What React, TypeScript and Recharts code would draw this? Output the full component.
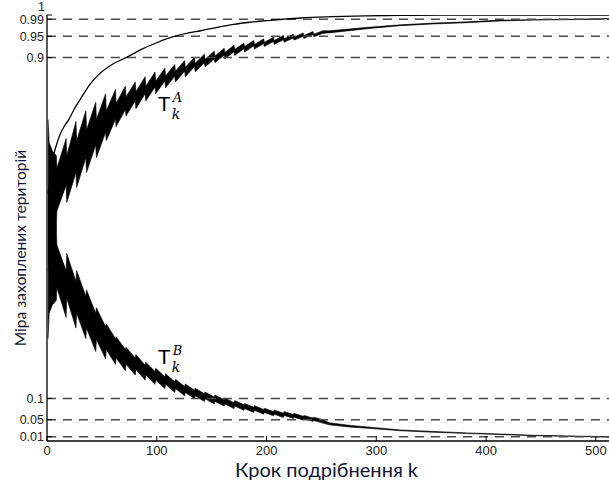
import React from "react";
import {
  Area,
  ComposedChart,
  Line,
  ReferenceDot,
  ReferenceLine,
  XAxis,
  YAxis,
} from "recharts";

// smooth curve
const K_S = [1, 3, 5, 8, 12, 16, 20, 25, 31, 40, 47, 60, 72, 85, 101, 115, 129, 140, 155, 170, 185, 201, 215, 231, 260, 290, 320, 360, 400, 450, 512];
const S_VAL = [0.58, 0.63, 0.66, 0.69, 0.72, 0.74, 0.755, 0.78, 0.805, 0.84, 0.86, 0.885, 0.9, 0.918, 0.936, 0.949, 0.958, 0.963, 0.971, 0.978, 0.983, 0.987, 0.99, 0.993, 0.996, 0.998, 0.999, 0.9995, 1, 1, 1];

// start of each sawtooth step
const TOOTH_K = [9, 18, 27, 36, 45, 54, 63, 72, 81, 90, 99, 108, 117, 126, 135, 144, 153, 162, 171, 180, 189, 198, 207, 216, 225, 234, 243];

// T_k^A
const A_HEAD_K = [1, 2, 5, 8.5];
const A_HEAD_LO = [0.4, 0.42, 0.45, 0.5];
const A_HEAD_HI = [0.755, 0.7, 0.68, 0.67];
const A_S_LO = [0.54, 0.56, 0.595, 0.63, 0.665, 0.705, 0.738, 0.763, 0.78, 0.798, 0.815, 0.829, 0.843, 0.855, 0.867, 0.878, 0.888, 0.897, 0.905, 0.913, 0.92, 0.926, 0.931, 0.936, 0.941, 0.945, 0.949];
const A_S_HI = [0.64, 0.67, 0.705, 0.73, 0.755, 0.775, 0.793, 0.808, 0.82, 0.833, 0.845, 0.857, 0.868, 0.877, 0.887, 0.896, 0.904, 0.912, 0.919, 0.926, 0.931, 0.936, 0.94, 0.944, 0.948, 0.952, 0.955];
const A_E_LO = [0.6, 0.63, 0.665, 0.695, 0.725, 0.755, 0.778, 0.798, 0.815, 0.831, 0.845, 0.856, 0.868, 0.879, 0.888, 0.897, 0.906, 0.914, 0.921, 0.928, 0.933, 0.938, 0.942, 0.946, 0.95, 0.954, 0.957];
const A_E_HI = [0.71, 0.75, 0.775, 0.795, 0.815, 0.825, 0.833, 0.843, 0.855, 0.866, 0.875, 0.884, 0.893, 0.901, 0.908, 0.915, 0.922, 0.929, 0.934, 0.94, 0.944, 0.948, 0.952, 0.955, 0.958, 0.961, 0.963];
const A_TAIL_K = [257, 275, 292, 322, 352, 383, 413, 443, 474, 504, 512];
const A_TAIL_LO = [0.958, 0.963, 0.968, 0.975, 0.979, 0.982, 0.986, 0.988, 0.989, 0.99, 0.991];
const A_TAIL_HI = [0.963, 0.967, 0.971, 0.977, 0.981, 0.984, 0.988, 0.989, 0.99, 0.991, 0.992];

// T_k^B
const B_HEAD_K = [1, 2, 5, 8.5];
const B_HEAD_LO = [0.24, 0.3, 0.32, 0.33];
const B_HEAD_HI = [0.58, 0.58, 0.55, 0.5];
const B_S_LO = [0.36, 0.335, 0.3, 0.265, 0.238, 0.215, 0.195, 0.18, 0.168, 0.155, 0.143, 0.133, 0.123, 0.114, 0.106, 0.099, 0.093, 0.087, 0.082, 0.076, 0.072, 0.067, 0.063, 0.06, 0.056, 0.052, 0.048];
const B_S_HI = [0.46, 0.44, 0.4, 0.355, 0.313, 0.275, 0.245, 0.22, 0.203, 0.185, 0.171, 0.158, 0.145, 0.134, 0.124, 0.115, 0.108, 0.101, 0.095, 0.088, 0.083, 0.077, 0.073, 0.069, 0.065, 0.06, 0.056];
const B_E_LO = [0.29, 0.265, 0.24, 0.21, 0.193, 0.18, 0.165, 0.155, 0.143, 0.133, 0.123, 0.114, 0.106, 0.099, 0.093, 0.087, 0.082, 0.076, 0.072, 0.067, 0.063, 0.059, 0.055, 0.053, 0.049, 0.046, 0.042];
const B_E_HI = [0.4, 0.375, 0.34, 0.3, 0.268, 0.24, 0.215, 0.195, 0.178, 0.163, 0.151, 0.139, 0.128, 0.119, 0.111, 0.103, 0.097, 0.09, 0.085, 0.079, 0.074, 0.069, 0.065, 0.062, 0.058, 0.054, 0.05];
const B_TAIL_K = [257, 275, 292, 322, 352, 383, 413, 443, 474, 504, 512];
const B_TAIL_LO = [0.038, 0.033, 0.03, 0.024, 0.0205, 0.0175, 0.015, 0.0125, 0.011, 0.0095, 0.009];
const B_TAIL_HI = [0.043, 0.037, 0.033, 0.026, 0.0225, 0.019, 0.0165, 0.0135, 0.012, 0.0105, 0.01];

const X_TICKS = [0, 100, 200, 300, 400, 500];
const Y_TICKS = [0.01, 0.05, 0.1, 0.9, 0.95, 0.99, 1];
const DASHED = [0.01, 0.05, 0.1, 0.9, 0.95, 0.99];

function buildBand(
  headK: number[], headLo: number[], headHi: number[],
  sLo: number[], sHi: number[], eLo: number[], eHi: number[],
  tailK: number[], tailLo: number[], tailHi: number[],
) {
  const rows: { k: number; r: number[] }[] = [];
  headK.forEach((k, i) => rows.push({ k, r: [headLo[i], headHi[i]] }));
  TOOTH_K.forEach((k, i) => {
    rows.push({ k, r: [sLo[i], sHi[i]] });
    rows.push({ k: k + 8.4, r: [eLo[i], eHi[i]] });
  });
  tailK.forEach((k, i) => rows.push({ k, r: [tailLo[i], tailHi[i]] }));
  return rows;
}

const smooth = K_S.map((k, i) => ({ k, v: S_VAL[i] }));
const bandA = buildBand(A_HEAD_K, A_HEAD_LO, A_HEAD_HI, A_S_LO, A_S_HI, A_E_LO, A_E_HI, A_TAIL_K, A_TAIL_LO, A_TAIL_HI);
const bandB = buildBand(B_HEAD_K, B_HEAD_LO, B_HEAD_HI, B_S_LO, B_S_HI, B_E_LO, B_E_HI, B_TAIL_K, B_TAIL_LO, B_TAIL_HI);

const tickFont = "'Liberation Sans', Arial, sans-serif";

function BottomTick(props: any) {
  const { x, y, payload } = props;
  return (
    <g>
      <line x1={x} y1={y} x2={x} y2={y - 5} stroke="#000" strokeWidth={1} />
      <text x={x} y={y + 14} textAnchor="middle" fontSize={13} fontFamily={tickFont} fill="#222">
        {payload.value}
      </text>
    </g>
  );
}

function TopTick(props: any) {
  const { x, y } = props;
  return <line x1={x} y1={y} x2={x} y2={y + 5} stroke="#000" strokeWidth={1} />;
}

function LeftTick(props: any) {
  const { x, y, payload } = props;
  const isOne = payload.value === 1;
  return (
    <g>
      <line x1={x} y1={y} x2={x + 5} y2={y} stroke="#000" strokeWidth={1} />
      <text
        x={isOne ? x - 2 : x - 3}
        y={isOne ? y - 4 : y + 4.5}
        textAnchor="end"
        fontSize={12.5}
        fontFamily={tickFont}
        fill="#222"
      >
        {payload.value}
      </text>
    </g>
  );
}

function Label(props: any) {
  const { cx, cy, sup } = props;
  return (
    <g>
      <text x={cx} y={cy} fontSize={21} fontFamily={tickFont} fill="#000">
        T
      </text>
      <text x={cx + 15} y={cy - 9} fontSize={13} fontStyle="italic" fontFamily="'DejaVu Serif', serif" fill="#000">
        {sup}
      </text>
      <text x={cx + 14} y={cy + 8} fontSize={14} fontStyle="italic" fontFamily="'DejaVu Serif', serif" fill="#000">
        k
      </text>
    </g>
  );
}

export default function App() {
  return (
    <div style={{ position: "absolute", left: 0, top: 0, width: 609, height: 480, background: "#fff" }}>
      <ComposedChart width={609} height={480} margin={{ top: 15, right: 0, bottom: 0, left: 0 }}>
        <XAxis
          type="number"
          dataKey="k"
          domain={[0, 512]}
          ticks={X_TICKS}
          interval={0}
          height={39}
          tickSize={0}
          tickMargin={0}
          tick={<BottomTick />}
          axisLine={{ stroke: "#000", strokeWidth: 1.3 }}
          tickLine={false}
          allowDataOverflow
        />
        <XAxis
          xAxisId="top"
          orientation="top"
          type="number"
          dataKey="k"
          domain={[0, 512]}
          ticks={X_TICKS}
          interval={0}
          height={0}
          tickSize={0}
          tick={<TopTick />}
          axisLine={{ stroke: "#000", strokeWidth: 1.3 }}
          tickLine={false}
        />
        <YAxis
          type="number"
          domain={[0, 1]}
          ticks={Y_TICKS}
          interval={0}
          width={47}
          tickSize={0}
          tickMargin={0}
          tick={<LeftTick />}
          axisLine={{ stroke: "#000", strokeWidth: 1.3 }}
          tickLine={false}
          allowDataOverflow
        />
        {DASHED.map((v) => (
          <ReferenceLine key={v} y={v} stroke="#4a4a4a" strokeWidth={1.5} strokeDasharray="9 7" />
        ))}
        <Area
          data={bandA}
          dataKey="r"
          type="linear"
          stroke="#000"
          strokeWidth={0.6}
          fill="#000"
          fillOpacity={1}
          isAnimationActive={false}
          activeDot={false}
        />
        <Area
          data={bandB}
          dataKey="r"
          type="linear"
          stroke="#000"
          strokeWidth={0.6}
          fill="#000"
          fillOpacity={1}
          isAnimationActive={false}
          activeDot={false}
        />
        <Line
          data={smooth}
          dataKey="v"
          type="monotone"
          stroke="#000"
          strokeWidth={1.3}
          dot={false}
          isAnimationActive={false}
        />
        <ReferenceDot x={101} y={0.775} r={0} shape={(p: any) => <Label {...p} sup="A" />} />
        <ReferenceDot x={101} y={0.18} r={0} shape={(p: any) => <Label {...p} sup="B" />} />
      </ComposedChart>
      <div
        style={{
          position: "absolute",
          left: 235,
          top: 459,
          fontFamily: "Lato, 'Noto Sans', sans-serif",
          fontSize: 20,
          color: "#0f1535",
          whiteSpace: "nowrap",
          lineHeight: "20px",
        }}
      >
        Крок подрібнення k
      </div>
      <div
        style={{
          position: "absolute",
          left: 20,
          top: 248,
          transform: "translate(-50%, -50%) rotate(-90deg)",
          fontFamily: "Lato, 'Noto Sans', sans-serif",
          fontSize: 15.6,
          color: "#0f1535",
          whiteSpace: "nowrap",
          lineHeight: "20px",
        }}
      >
        Міра захоплених територій
      </div>
    </div>
  );
}
